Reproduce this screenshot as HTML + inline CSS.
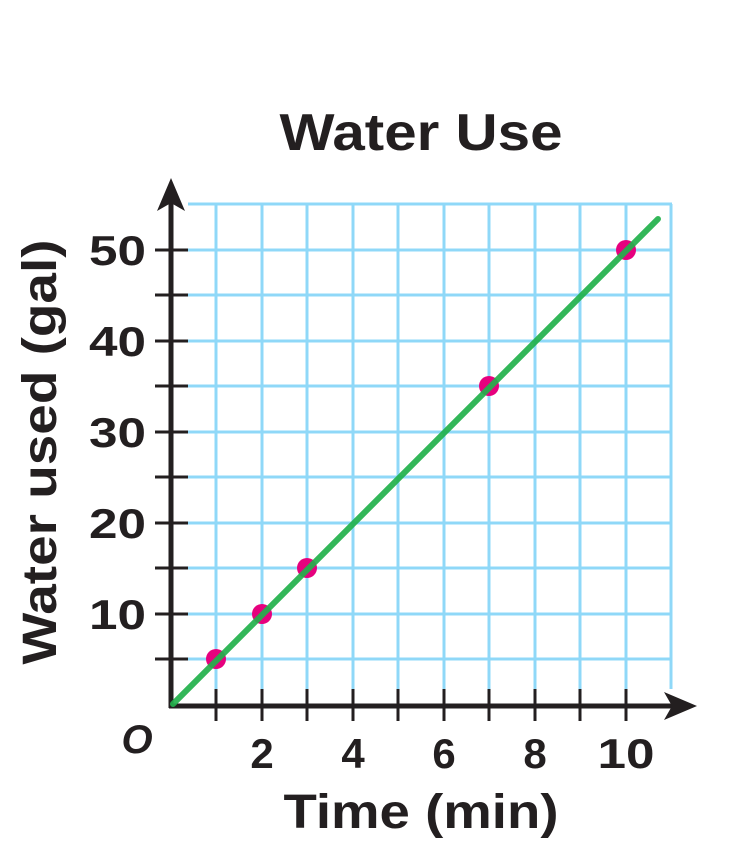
<!DOCTYPE html>
<html><head><meta charset="utf-8"><style>html,body{margin:0;padding:0;background:#fff}svg{display:block}</style></head>
<body>
<svg width="755" height="860" viewBox="0 0 755 860" xmlns="http://www.w3.org/2000/svg" font-family="Liberation Sans, sans-serif" font-weight="bold" fill="#231f20">
<g stroke="#8fd8f8" stroke-width="3">
<line x1="188" y1="204" x2="672" y2="204"/><line x1="188" y1="250" x2="672" y2="250"/><line x1="188" y1="295" x2="672" y2="295"/><line x1="188" y1="341" x2="672" y2="341"/><line x1="188" y1="386" x2="672" y2="386"/><line x1="188" y1="432" x2="672" y2="432"/><line x1="188" y1="477" x2="672" y2="477"/><line x1="188" y1="523" x2="672" y2="523"/><line x1="188" y1="568" x2="672" y2="568"/><line x1="188" y1="614" x2="672" y2="614"/><line x1="188" y1="659" x2="672" y2="659"/>
<line x1="216" y1="204" x2="216" y2="689"/><line x1="262" y1="204" x2="262" y2="689"/><line x1="307" y1="204" x2="307" y2="689"/><line x1="353" y1="204" x2="353" y2="689"/><line x1="398" y1="204" x2="398" y2="689"/><line x1="444" y1="204" x2="444" y2="689"/><line x1="489" y1="204" x2="489" y2="689"/><line x1="535" y1="204" x2="535" y2="689"/><line x1="580" y1="204" x2="580" y2="689"/><line x1="626" y1="204" x2="626" y2="689"/><line x1="671" y1="204" x2="671" y2="689"/>
</g>
<g stroke="#231f20" stroke-width="3">
<line x1="155" y1="250" x2="188" y2="250"/><line x1="155" y1="295" x2="188" y2="295"/><line x1="155" y1="341" x2="188" y2="341"/><line x1="155" y1="386" x2="188" y2="386"/><line x1="155" y1="432" x2="188" y2="432"/><line x1="155" y1="477" x2="188" y2="477"/><line x1="155" y1="523" x2="188" y2="523"/><line x1="155" y1="568" x2="188" y2="568"/><line x1="155" y1="614" x2="188" y2="614"/><line x1="155" y1="659" x2="188" y2="659"/>
<line x1="216" y1="689" x2="216" y2="721"/><line x1="262" y1="689" x2="262" y2="721"/><line x1="307" y1="689" x2="307" y2="721"/><line x1="353" y1="689" x2="353" y2="721"/><line x1="398" y1="689" x2="398" y2="721"/><line x1="444" y1="689" x2="444" y2="721"/><line x1="489" y1="689" x2="489" y2="721"/><line x1="535" y1="689" x2="535" y2="721"/><line x1="580" y1="689" x2="580" y2="721"/><line x1="626" y1="689" x2="626" y2="721"/>
</g>
<line x1="171" y1="708" x2="171" y2="200" stroke="#231f20" stroke-width="5"/>
<line x1="169" y1="706" x2="680" y2="706" stroke="#231f20" stroke-width="5"/>
<path d="M171 178 L185 211 L171 203 L157 211 Z"/>
<path d="M697 706 L664 692 L672 706 L664 720 Z"/>
<g fill="#e6007e">
<circle cx="216" cy="659" r="10"/><circle cx="262" cy="614" r="10"/><circle cx="307" cy="568" r="10"/><circle cx="489" cy="386" r="10"/><circle cx="626" cy="250" r="10"/>
</g>
<line x1="173" y1="704" x2="658" y2="219" stroke="#22b14c" stroke-width="6" stroke-linecap="round" opacity="0.92"/>
<g font-size="42" text-anchor="end">
<text x="146" y="265" textLength="57" lengthAdjust="spacingAndGlyphs">50</text><text x="146" y="356" textLength="57" lengthAdjust="spacingAndGlyphs">40</text><text x="146" y="447" textLength="57" lengthAdjust="spacingAndGlyphs">30</text><text x="146" y="538" textLength="57" lengthAdjust="spacingAndGlyphs">20</text><text x="146" y="629" textLength="57" lengthAdjust="spacingAndGlyphs">10</text>
</g>
<g font-size="42" text-anchor="middle">
<text x="262" y="768">2</text><text x="353" y="768">4</text><text x="444" y="768">6</text><text x="535" y="768">8</text><text x="626" y="768" textLength="57" lengthAdjust="spacingAndGlyphs">10</text>
</g>
<text x="137" y="753" font-size="40" font-style="italic" text-anchor="middle">O</text>
<text x="421" y="150" font-size="52" text-anchor="middle" textLength="283" lengthAdjust="spacingAndGlyphs">Water Use</text>
<text x="421" y="828" font-size="48" text-anchor="middle" textLength="275" lengthAdjust="spacingAndGlyphs">Time (min)</text>
<text transform="translate(56,452) rotate(-90)" font-size="48" text-anchor="middle" textLength="425" lengthAdjust="spacingAndGlyphs">Water used (gal)</text>
</svg>
</body></html>
